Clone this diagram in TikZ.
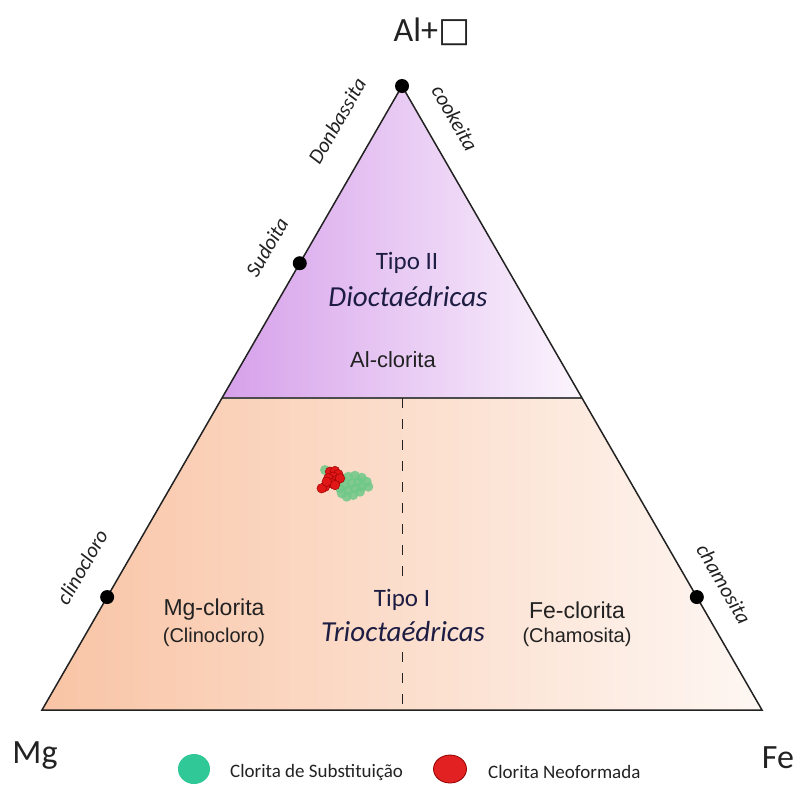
\documentclass[tikz,border=0pt]{standalone}
\usepackage{fontspec}
\setmainfont{Carlito}
\newfontfamily\arialf{Liberation Sans}
\newfontfamily\dejavuf{DejaVu Sans}
\usetikzlibrary{calc}
\newcommand{\myfs}[1]{\fontsize{#1}{#1}\selectfont}
\definecolor{purpleL}{RGB}{214,160,234}
\definecolor{purpleR}{RGB}{251,245,253}
\definecolor{peachL}{RGB}{249,196,165}
\definecolor{peachR}{RGB}{254,247,243}
\definecolor{txt}{RGB}{34,34,34}
\definecolor{ptgreen}{RGB}{110,200,135}
\definecolor{leggreen}{RGB}{48,200,150}
\definecolor{ptred}{RGB}{225,22,22}
\definecolor{ptredd}{RGB}{150,0,0}
\begin{document}
\begin{tikzpicture}[x=1pt,y=-1pt,
  vtx/.style={circle,fill=black,inner sep=0pt,minimum size=14pt},
  sidelbl/.style={font=\myfs{21}\itshape,text=txt,inner sep=0pt},
  bigl/.style={font=\myfs{34},text=txt,inner sep=0pt},
  tipo/.style={font=\myfs{25},text=txt!85!blue,inner sep=0pt},
  tipoit/.style={font=\myfs{29}\itshape,text=txt!85!blue,inner sep=0pt},
  arl/.style={font=\arialf\myfs{#1},text=txt,inner sep=0pt},
  legtxt/.style={font=\myfs{19},text=txt,inner sep=0pt,anchor=west},
  gpt/.style={fill=ptgreen,fill opacity=0.85},
  rpt/.style={fill=ptred,draw=ptredd,line width=0.4pt},
  divline/.style={dashed,dash pattern=on 10pt off 11pt,line width=1pt,draw=txt}
]
\path[use as bounding box] (0,0) rectangle (800,785);
\coordinate (A) at (402,86);
\coordinate (L) at (42,710);
\coordinate (R) at (762,710);
\coordinate (ML) at ($(A)!0.5!(L)$);
\coordinate (MR) at ($(A)!0.5!(R)$);
\coordinate (MM) at ($(ML)!0.5!(MR)$);
\coordinate (BM) at ($(L)!0.5!(R)$);
\coordinate (D1) at (402,584);
\coordinate (D2) at (402,652);
% fields
\shade[left color=purpleL,right color=purpleR] (A) -- (ML) -- (MR) -- cycle;
\shade[left color=peachL,right color=peachR] (ML) -- (L) -- (R) -- (MR) -- cycle;
% division lines
\draw[line width=1.2pt,draw=black!70] (ML) -- (MR);
\draw[divline] (MM) -- (D1);
\draw[divline] (D2) -- (BM);
% outline
\draw[line width=1.5pt,draw=txt,line join=miter] (A) -- (L) -- (R) -- cycle;
% end-member dots
\node[vtx] (dA) at (A) {};
\node[vtx] (dS) at ($(A)!0.284!(L)$) {};
\node[vtx] (dC) at ($(A)!0.819!(L)$) {};
\node[vtx] (dF) at ($(A)!0.819!(R)$) {};
% apex labels
\node[bigl] (tAl) at (432,32) {Al+{\dejavuf □}};
\node[bigl,anchor=base] (tMg) at (35,763) {Mg};
\node[bigl,anchor=base] (tFe) at (778,768) {Fe};
% side labels
\node[sidelbl,rotate=60] (lDon) at (337,121) {Donbassita};
\node[sidelbl,rotate=-60] (lCoo) at (455,118) {cookeita};
\node[sidelbl,rotate=60] (lSud) at (267,247) {Sudoita};
\node[sidelbl,rotate=60] (lCli) at (82,567) {clinocloro};
\node[sidelbl,rotate=-60] (lCha) at (724,584) {chamosita};
% field labels
\node[tipo] (t2) at (407,263) {Tipo II};
\node[tipoit] (t2b) at (408,297) {Dioctaédricas};
\node[arl=22] (alc) at (393,360) {Al-clorita};
\node[tipo] (t1) at (402,600) {Tipo I};
\node[tipoit] (t1b) at (403,632) {Trioctaédricas};
\node[arl=23] (mgc) at (214,610) {Mg-clorita};
\node[arl=20] (mgc2) at (214,637) {(Clinocloro)};
\node[arl=23] (fec) at (577,610) {Fe-clorita};
\node[arl=20] (fec2) at (577,637) {(Chamosita)};
% data points: green
\foreach \p in {(325,470),(330,471.7),(341.7,478.3),(348.3,476.7),(355,475.7),(361.7,477.7),(366.7,481.7),(358.3,481.7),(351.7,483.3),(345,485),(361.7,486.7),(355,488.3),(348.3,490),(341.7,493.3),(346.7,496.7),(353.3,495),(360,491.7),(368.3,486.7),(340,488.3)}
  \fill[gpt] \p circle (5pt);
% data points: red
\foreach \p in {(330,471.7),(335,471),(338.3,474.3),(333.3,476.7),(328.3,478.3),(336.7,480),(331.7,483.3),(325,486.7),(321.7,488.3),(340,478.3),(335,485),(326.7,481.7)}
  \filldraw[rpt] \p circle (4.8pt);
% legend
\fill[leggreen] (194,769) ellipse (16pt and 15pt);
\node[legtxt] (lg1) at (230,772) {Clorita de Substituição};
\filldraw[fill=ptred!95!white,draw=ptredd,line width=0.8pt] (450,769) ellipse (16.5pt and 14pt);
\node[legtxt] (lg2) at (488,772) {Clorita Neoformada};
\end{tikzpicture}
\end{document}
